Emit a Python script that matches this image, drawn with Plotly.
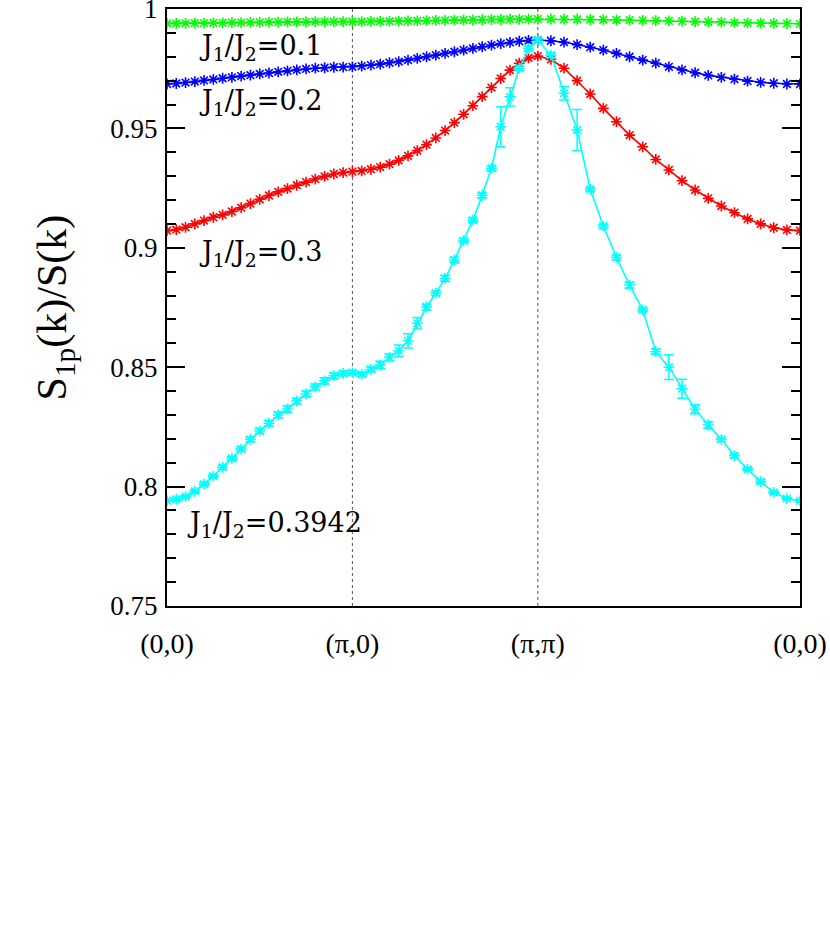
import numpy as np
import plotly.graph_objects as go

# path coordinate: (0,0)=0, (pi,0)=1, (pi,pi)=2, (0,0)=2+sqrt(2)
tick_vals = [0, 1, 2, 2 + np.sqrt(2)]
tick_text = ["(0,0)", "(π,0)", "(π,π)", "(0,0)"]

green_seg1 = [0.9940, 0.9940, 0.9940, 0.9941, 0.9941, 0.9942, 0.9942, 0.9943, 0.9943, 0.9944, 0.9944,
              0.9945, 0.9945, 0.9946, 0.9946, 0.9946, 0.9947, 0.9947, 0.9947, 0.9947, 0.9947]
green_seg2 = [0.9947, 0.9947, 0.9948, 0.9948, 0.9949, 0.9949, 0.9950, 0.9950, 0.9951, 0.9952, 0.9952,
              0.9953, 0.9954, 0.9954, 0.9955, 0.9956, 0.9956, 0.9957, 0.9957, 0.9958, 0.9958]
green_diag = [0.9958, 0.9958, 0.9957, 0.9957, 0.9956, 0.9955, 0.9954, 0.9953, 0.9952, 0.9951, 0.9950,
              0.9949, 0.9947, 0.9946, 0.9945, 0.9943, 0.9942, 0.9941, 0.9940, 0.9939, 0.9938]

blue_seg1 = [0.9686, 0.9688, 0.9692, 0.9696, 0.9701, 0.9705, 0.9710, 0.9714, 0.9719, 0.9723, 0.9728,
             0.9732, 0.9737, 0.9741, 0.9745, 0.9749, 0.9752, 0.9754, 0.9756, 0.9757, 0.9758]
blue_seg2 = [0.9758, 0.9761, 0.9765, 0.9769, 0.9775, 0.9780, 0.9786, 0.9793, 0.9800, 0.9807, 0.9814,
             0.9821, 0.9828, 0.9835, 0.9842, 0.9849, 0.9855, 0.9860, 0.9865, 0.9868, 0.9870]
blue_diag = [0.9870, 0.9867, 0.9861, 0.9851, 0.9840, 0.9828, 0.9814, 0.9800, 0.9786, 0.9773, 0.9758,
             0.9745, 0.9733, 0.9722, 0.9714, 0.9706, 0.9698, 0.9693, 0.9689, 0.9686, 0.9686]

red_seg1 = [0.9072, 0.9076, 0.9086, 0.9100, 0.9114, 0.9128, 0.9138, 0.9152, 0.9168, 0.9185, 0.9203,
            0.9219, 0.9234, 0.9248, 0.9262, 0.9275, 0.9288, 0.9299, 0.9309, 0.9315, 0.9319]
red_seg2 = [0.9319, 0.9322, 0.9329, 0.9338, 0.9350, 0.9366, 0.9385, 0.9407, 0.9432, 0.9460, 0.9491,
            0.9524, 0.9559, 0.9595, 0.9633, 0.9671, 0.9709, 0.9744, 0.9773, 0.9795, 0.9803]
red_diag = [0.9803, 0.9789, 0.9752, 0.9700, 0.9644, 0.9584, 0.9528, 0.9472, 0.9423, 0.9370, 0.9326,
            0.9281, 0.9242, 0.9207, 0.9175, 0.9147, 0.9121, 0.9100, 0.9084, 0.9075, 0.9072]

cyan_seg1 = [0.7941, 0.7947, 0.7958, 0.7980, 0.8010, 0.8044, 0.8081, 0.8118, 0.8157, 0.8198, 0.8233,
             0.8265, 0.8300, 0.8325, 0.8358, 0.8388, 0.8418, 0.8443, 0.8464, 0.8474, 0.8477]
cyan_seg1_err = [0.0, 0.0005, 0.0006, 0.0007, 0.0008, 0.0007, 0.0008, 0.0008, 0.0009, 0.0009, 0.0010,
                 0.0011, 0.0012, 0.0014, 0.0011, 0.0012, 0.0012, 0.0013, 0.0012, 0.0010, 0.0009]
cyan_seg2 = [0.8477, 0.8470, 0.8491, 0.8509, 0.8541, 0.8569, 0.8610, 0.8684, 0.8752, 0.8810, 0.8872,
             0.8949, 0.9030, 0.9116, 0.9220, 0.9333, 0.9507, 0.9632, 0.9752, 0.9835, 0.9870]
cyan_seg2_err = [0.0009, 0.0009, 0.0010, 0.0016, 0.0014, 0.0024, 0.0030, 0.0024, 0.0012, 0.0010, 0.0012,
                 0.0010, 0.0008, 0.0009, 0.0010, 0.0010, 0.0084, 0.0038, 0.0010, 0.0010, 0.0008]
cyan_diag = [0.9870, 0.9807, 0.9647, 0.9493, 0.9245, 0.9091, 0.8960, 0.8844, 0.8740, 0.8565, 0.8500,
             0.8410, 0.8324, 0.8258, 0.8198, 0.8130, 0.8073, 0.8021, 0.7976, 0.7950, 0.7940]
cyan_diag_err = [0.0008, 0.0010, 0.0028, 0.0086, 0.0008, 0.0008, 0.0010, 0.0012, 0.0008, 0.0010, 0.0052,
                 0.0040, 0.0019, 0.0014, 0.0008, 0.0008, 0.0007, 0.0008, 0.0006, 0.0005, 0.0004]

labels = ["J<sub>1</sub>/J<sub>2</sub>=0.1", "J<sub>1</sub>/J<sub>2</sub>=0.2",
          "J<sub>1</sub>/J<sub>2</sub>=0.3", "J<sub>1</sub>/J<sub>2</sub>=0.3942"]
label_x = [0.162, 0.162, 0.162, 0.097]
label_y = [0.9837, 0.9608, 0.8978, 0.7840]


def path_x(n1, n2, n3):
    a = np.linspace(0, 1, n1)
    b = np.linspace(1, 2, n2)[1:]
    c = np.linspace(2, 2 + np.sqrt(2), n3)[1:]
    return np.concatenate([a, b, c])


def join(s1, s2, s3):
    return list(s1) + list(s2[1:]) + list(s3[1:])


fig = go.Figure()

series = [
    ("green", "#00ff00", green_seg1, green_seg2, green_diag, None),
    ("blue", "#0000ff", blue_seg1, blue_seg2, blue_diag, None),
    ("red", "#ff0000", red_seg1, red_seg2, red_diag, None),
    ("cyan", "#00ffff", cyan_seg1, cyan_seg2, cyan_diag, (cyan_seg1_err, cyan_seg2_err, cyan_diag_err)),
]

for name, col, s1, s2, s3, err in series:
    x = path_x(len(s1), len(s2), len(s3))
    y = join(s1, s2, s3)
    tr = dict(
        x=x, y=y, mode="lines+markers", name=name,
        line=dict(color=col, width=1.6),
        marker=dict(symbol="asterisk-open", size=9, color=col, line=dict(color=col, width=1.6)),
        showlegend=False,
    )
    if err is not None:
        tr["error_y"] = dict(type="data", array=join(*err), visible=True, color=col,
                             thickness=1.5, width=5)
    fig.add_trace(go.Scatter(**tr))

for xv in [1, 2]:
    fig.add_shape(type="line", x0=xv, x1=xv, y0=0, y1=1, xref="x", yref="paper",
                  line=dict(color="#555555", width=1, dash="dot"), layer="below")

for t, xv, yv in zip(labels, label_x, label_y):
    fig.add_annotation(x=xv, y=yv, text=t, showarrow=False, xanchor="left", yanchor="middle",
                       font=dict(family="DejaVu Serif", size=27, color="black"))

fig.add_annotation(xref="paper", yref="paper", x=-0.177, y=0.5, text="S<sub>1p</sub>(k)/S(k)",
                   textangle=-90, showarrow=False, xanchor="center", yanchor="middle",
                   font=dict(family="Liberation Serif", size=42, color="black"))

fig.update_xaxes(
    range=[0, 2 + np.sqrt(2)], tickvals=tick_vals, ticktext=tick_text,
    showline=True, linecolor="black", linewidth=2, mirror=True,
    ticks="", showgrid=False, zeroline=False, ticklabelstandoff=11,
    ticklabeloverflow="allow",
    tickfont=dict(family="Liberation Serif", size=28, color="black"),
)
fig.update_yaxes(
    range=[0.75, 1.0], tickvals=[0.75, 0.8, 0.85, 0.9, 0.95, 1.0],
    ticktext=["0.75", "0.8", "0.85", "0.9", "0.95", "1"],
    showline=True, linecolor="black", linewidth=2, mirror="allticks",
    ticks="inside", ticklen=18, tickwidth=1.5, tickcolor="black",
    minor=dict(ticks="inside", ticklen=9, tickwidth=1.5, tickcolor="black", dtick=0.01, tick0=0.75),
    showgrid=False, zeroline=False, ticklabelstandoff=2,
    ticklabeloverflow="allow",
    tickfont=dict(family="Liberation Serif", size=27, color="black"),
)

fig.update_layout(
    width=830, height=942,
    margin=dict(l=167, r=30, t=9, b=336, autoexpand=False),
    plot_bgcolor="white", paper_bgcolor="white",
)

fig.write_html("out.html", config={"displayModeBar": False},
               post_script="document.body.style.margin='0';")
